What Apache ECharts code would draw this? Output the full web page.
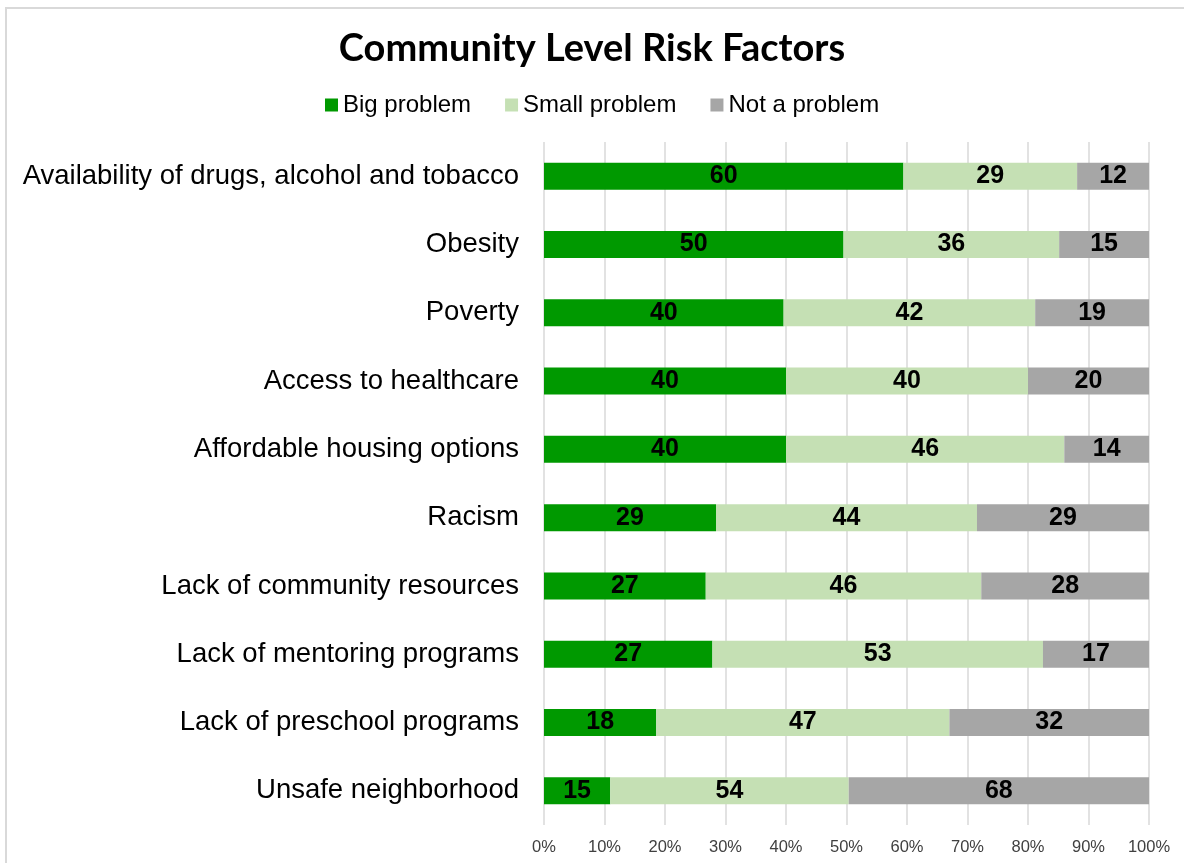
<!DOCTYPE html>
<html>
<head>
<meta charset="utf-8">
<script src="https://cdn.jsdelivr.net/npm/echarts@6/dist/echarts.min.js"></script>
<style>
  html, body { margin: 0; padding: 0; background: #fff; }
  #chart { width: 1184px; height: 863px; }
</style>
</head>
<body>
<div id="chart"></div>
<script>
// Survey responses (counts) per community risk factor
const categories = [
  'Availability of drugs, alcohol and tobacco',
  'Obesity',
  'Poverty',
  'Access to healthcare',
  'Affordable housing options',
  'Racism',
  'Lack of community resources',
  'Lack of mentoring programs',
  'Lack of preschool programs',
  'Unsafe neighborhood'
];
const bigProblem   = [60, 50, 40, 40, 40, 29, 27, 27, 18, 15];
const smallProblem = [29, 36, 42, 40, 46, 44, 46, 53, 47, 54];
const notAProblem  = [12, 15, 19, 20, 14, 29, 28, 17, 32, 68];
const seriesNames  = ['Big problem', 'Small problem', 'Not a problem'];
const xTicks = [0, 10, 20, 30, 40, 50, 60, 70, 80, 90, 100];

const counts = [bigProblem, smallProblem, notAProblem];
const totals = categories.map((_, i) => counts.reduce((s, arr) => s + arr[i], 0));
const colors = ['#009900', '#c5e0b4', '#a6a6a6'];

const chart = echarts.init(document.getElementById('chart'));

const series = counts.map((arr, k) => ({
  name: seriesNames[k],
  type: 'bar',
  stack: 'total',
  barWidth: 27,
  itemStyle: { color: colors[k] },
  label: {
    show: true,
    position: 'inside',
    color: '#000',
    fontFamily: '"Liberation Sans Narrow", "Liberation Sans", Arial, sans-serif',
    fontWeight: 'bold',
    fontSize: 25,
    formatter: p => String(arr[p.dataIndex])
  },
  // 100% stacked: each segment is its share of the row total
  data: arr.map((v, i) => v / totals[i] * 100)
}));

chart.setOption({
  animation: false,
  backgroundColor: '#fff',
  title: {
    text: 'Community Level Risk Factors',
    left: 'center',
    top: 25,
    textStyle: {
      fontFamily: 'Lato',
      fontWeight: 'bold',
      fontSize: 38,
      color: '#000'
    }
  },
  legend: {
    top: 88,
    left: 320,
    itemWidth: 13,
    itemHeight: 13,
    itemGap: 34,
    icon: 'rect',
    textStyle: { fontFamily: 'Liberation Sans', fontSize: 24, color: '#000' },
    data: seriesNames
  },
  grid: { left: 544, right: 35, top: 142, bottom: 38, containLabel: false },
  xAxis: {
    type: 'value',
    min: xTicks[0],
    max: xTicks[xTicks.length - 1],
    interval: 10,
    axisLine: { show: false },
    axisTick: { show: false },
    splitLine: { show: true, lineStyle: { color: '#d9d9d9', width: 1.5 } },
    axisLabel: {
      formatter: '{value}%',
      fontFamily: 'Liberation Sans',
      fontSize: 16.5,
      color: '#404040',
      margin: 14
    }
  },
  yAxis: {
    type: 'category',
    inverse: true,
    data: categories,
    axisLine: { show: false },
    axisTick: { show: false },
    axisLabel: {
      fontFamily: 'Liberation Sans',
      fontSize: 27.5,
      color: '#000',
      margin: 25
    }
  },
  graphic: [{
    type: 'rect',
    shape: { x: 6, y: 8, width: 1200, height: 900 },
    style: { fill: 'none', stroke: '#d9d9d9', lineWidth: 2 },
    silent: true
  }],
  series
});
</script>
</body>
</html>
